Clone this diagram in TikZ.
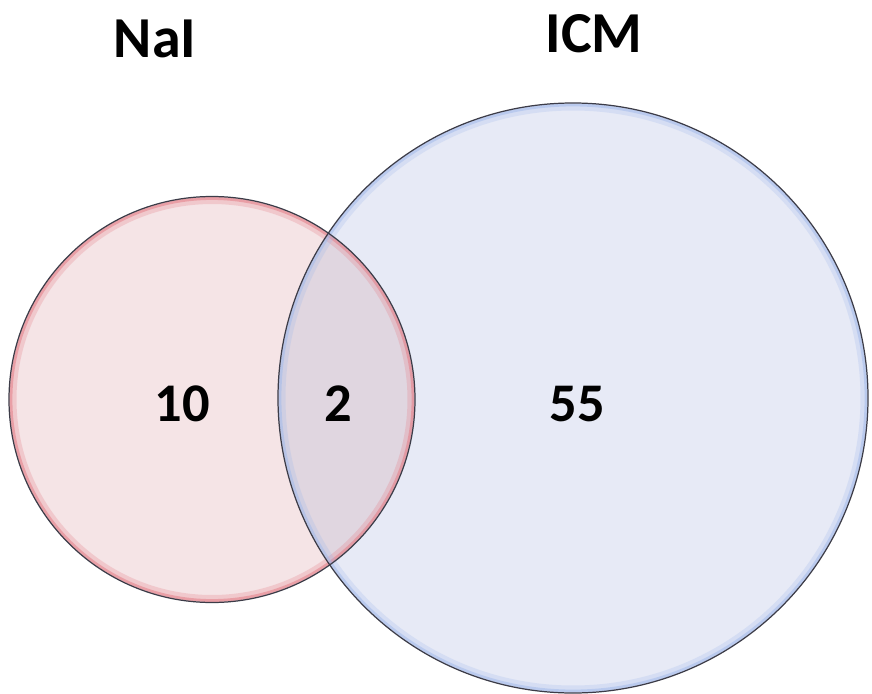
\documentclass[tikz,border=0pt]{standalone}
\usepackage{fontspec}
\setmainfont{Carlito}
\usepackage{xcolor}
\definecolor{naifill}{RGB}{245,228,230}
\definecolor{naiedge}{RGB}{228,120,130}
\definecolor{icmfill}{RGB}{231,234,246}
\definecolor{icmedge}{RGB}{160,185,235}
\definecolor{bothfill}{RGB}{224,214,224}
\definecolor{rimgrey}{RGB}{60,60,72}
\newcommand{\rNaI}{203}
\newcommand{\rICM}{295}

\begin{document}
\begin{tikzpicture}[x=0.02cm,y=-0.02cm,
    count/.style={font=\fontsize{31}{36}\selectfont\bfseries},
    setname/.style={font=\fontsize{33}{38}\selectfont\bfseries}]
  \useasboundingbox (0,0) rectangle (872,693);
  \coordinate (naic) at (212,399.5);
  \coordinate (icmc) at (573,398);
  % fills
  \fill[naifill] (naic) circle (\rNaI);
  \fill[icmfill] (icmc) circle (\rICM);
  \begin{scope}
    \clip (naic) circle (\rNaI);
    \fill[bothfill] (icmc) circle (\rICM);
  \end{scope}
  % rims, soft inner band then dark outline
  \draw[naiedge,line width=4pt,opacity=.25] (naic) circle (\rNaI-4);
  \draw[naiedge,line width=1.6pt,opacity=.5] (naic) circle (\rNaI-2);
  \draw[icmedge,line width=4pt,opacity=.25] (icmc) circle (\rICM-4);
  \draw[icmedge,line width=1.6pt,opacity=.5] (icmc) circle (\rICM-2);
  \draw[rimgrey,line width=.7pt] (naic) circle (\rNaI);
  \draw[rimgrey,line width=.7pt] (icmc) circle (\rICM);
  % labels
  \node[setname] (nainame) at (155,39) {NaI};
  \node[setname] (icmname) at (594,34) {ICM};
  \node[count] (naionly) at (182,404) {10};
  \node[count] (both) at (338,404) {2};
  \node[count] (icmonly) at (577,404) {55};
\end{tikzpicture}
\end{document}
